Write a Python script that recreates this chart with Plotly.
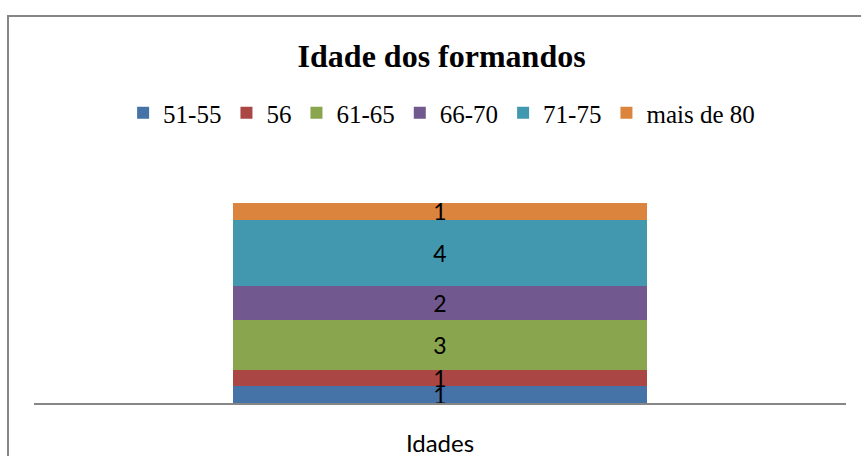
import plotly.graph_objects as go

# dados do grafico
categorias = ["Idades"]
faixas = ["51-55", "56", "61-65", "66-70", "71-75", "mais de 80"]
valores = [1, 1, 3, 2, 4, 1]
cores = ["#4572A7", "#AA4643", "#89A54E", "#71588F", "#4198AF", "#DB843D"]

fig = go.Figure()
for faixa, valor, cor in zip(faixas, valores, cores):
    fig.add_trace(go.Bar(
        x=categorias, y=[valor], name=faixa,
        marker=dict(color=cor, line=dict(width=0)),
        text=[valor], textposition="inside", insidetextanchor="middle",
        textangle=0,
        textfont=dict(color="black", size=23, family="Lato"),
        width=0.51,
    ))

fig.update_layout(
    barmode="stack",
    width=861, height=456,
    margin=dict(l=34, r=15, t=203, b=53, autoexpand=False),
    paper_bgcolor="white", plot_bgcolor="white",
    uniformtext=dict(minsize=23, mode="show"),
    title=dict(text="<b>Idade dos formandos</b>", xref="paper", x=0.502, xanchor="center",
               yref="container", y=1 - 56 / 456, yanchor="middle",
               font=dict(family="Liberation Serif", size=32, color="black")),
    legend=dict(orientation="h", x=0.502, xanchor="center", y=1.45, yanchor="middle",
                font=dict(family="Liberation Serif", size=25, color="black"),
                traceorder="normal", itemwidth=30),
    showlegend=True,
    shapes=[dict(type="rect", xref="paper", yref="paper",
                 x0=(8 - 34) / 812, x1=(870 - 34) / 812,
                 y0=(403 - 470) / 200, y1=(403 - 16) / 200,
                 line=dict(color="#868686", width=2), layer="below"),
            # linha do eixo a partir de x=38
            ],
)
fig.update_xaxes(showline=True, linecolor="#868686", linewidth=2, ticks="",
                 automargin=False, ticklabelstandoff=18,
                 tickfont=dict(family="Lato", size=24, color="black"),
                 showgrid=False)
fig.update_yaxes(visible=False, range=[0, 12], automargin=False)

fig.write_html("out.html", config={"displayModeBar": False},
               post_script="document.body.style.margin = '0';")
